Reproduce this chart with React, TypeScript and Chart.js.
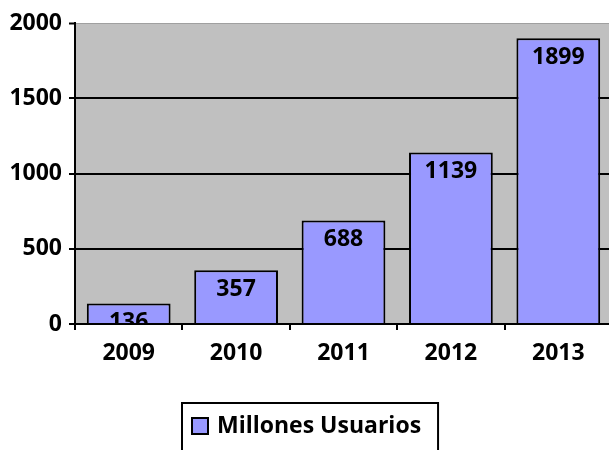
import React, { useEffect, useRef } from "react";
import { Chart, registerables } from "chart.js";

Chart.register(...registerables);

const categories = ["2009", "2010", "2011", "2012", "2013"];
const seriesName = "Millones Usuarios";
const values = [136, 357, 688, 1139, 1899];
const yMin = 0;
const yMax = 2000;
const yStep = 500;

const FONT = "'Open Sans', 'DejaVu Sans', sans-serif";
const FONT_SIZE = 23;
const BAR_COLOR = "#9999FF";
const PLOT_BG = "#C0C0C0";

const plotBg = {
  id: "plotBg",
  beforeDraw(chart: any) {
    const { ctx, chartArea } = chart;
    ctx.save();
    ctx.fillStyle = PLOT_BG;
    ctx.fillRect(chartArea.left, chartArea.top, chartArea.right - chartArea.left, chartArea.bottom - chartArea.top);
    ctx.restore();
  },
};

const barLabels = {
  id: "barLabels",
  afterDatasetsDraw(chart: any) {
    const { ctx, chartArea } = chart;
    const meta = chart.getDatasetMeta(0);
    const data = chart.data.datasets[0].data as number[];
    ctx.save();
    ctx.beginPath();
    ctx.rect(chartArea.left, chartArea.top, chartArea.right - chartArea.left, chartArea.bottom - chartArea.top);
    ctx.clip();
    ctx.font = `bold ${FONT_SIZE}px ${FONT}`;
    ctx.fillStyle = "#000";
    ctx.textAlign = "center";
    ctx.textBaseline = "middle";
    meta.data.forEach((el: any, i: number) => {
      ctx.fillText(String(data[i]), el.x, el.y + 19);
    });
    ctx.restore();
  },
};

const boxedLegend = {
  id: "boxedLegend",
  afterDraw(chart: any) {
    const { ctx, chartArea } = chart;
    const label = chart.data.datasets[0].label as string;
    ctx.save();
    ctx.font = `bold ${FONT_SIZE}px ${FONT}`;
    const textW = ctx.measureText(label).width;
    const padL = 10, marker = 16, gap = 9, padR = 17;
    const totalW = padL + marker + gap + textW + padR;
    const left = Math.round(chart.width / 2 - totalW / 2);
    const top = chartArea.bottom + 79;
    ctx.strokeStyle = "#000";
    ctx.lineWidth = 2;
    ctx.strokeRect(left, top, totalW, chart.height - top + 10);
    const cy = top + 23;
    ctx.fillStyle = BAR_COLOR;
    ctx.fillRect(left + padL, cy - marker / 2, marker, marker);
    ctx.strokeRect(left + padL, cy - marker / 2, marker, marker);
    ctx.fillStyle = "#000";
    ctx.textAlign = "left";
    ctx.textBaseline = "middle";
    ctx.fillText(label, left + padL + marker + gap, cy);
    ctx.restore();
  },
};

export default function App() {
  const ref = useRef<HTMLCanvasElement>(null);

  useEffect(() => {
    if (!ref.current) return;
    const chart = new Chart(ref.current, {
      type: "bar",
      data: {
        labels: categories,
        datasets: [
          {
            label: seriesName,
            data: values,
            backgroundColor: BAR_COLOR,
            borderColor: "#000",
            borderWidth: 2,
            categoryPercentage: 1,
            barPercentage: 0.78,
          },
        ],
      },
      options: {
        responsive: false,
        maintainAspectRatio: false,
        animation: false,
        devicePixelRatio: 1,
        layout: { padding: { left: 0, right: 8, top: 23, bottom: 86 } },
        plugins: {
          legend: { display: false },
          tooltip: { enabled: false },
        },
        scales: {
          x: {
            grid: {
              offset: true,
              drawOnChartArea: false,
              drawTicks: true,
              tickLength: 6,
              color: "#000",
              lineWidth: 2,
            },
            border: { color: "#000", width: 2, z: 1 },
            ticks: {
              color: "#000",
              font: { family: FONT, size: FONT_SIZE, weight: "bold" },
              padding: 10,
              maxRotation: 0,
              autoSkip: false,
            },
            afterFit(s: any) {
              s.height = 60;
            },
          },
          y: {
            min: yMin,
            max: yMax,
            ticks: {
              stepSize: yStep,
              color: "#000",
              font: { family: FONT, size: FONT_SIZE, weight: "bold" },
              padding: 7,
              callback: (v: any) => String(v),
            },
            grid: {
              color: (c: any) => (c.tick && c.tick.value === yMax ? "#A0A0A0" : "#000"),
              lineWidth: (c: any) => (c.tick && c.tick.value === yMax ? 1 : 2),
              tickColor: "#000",
              tickWidth: 2,
              tickLength: 6,
            },
            border: { color: "#000", width: 2, z: 1 },
            afterFit(s: any) {
              s.width = 75;
            },
          },
        },
      },
      plugins: [plotBg, barLabels, boxedLegend],
    });
    return () => chart.destroy();
  }, []);

  return (
    <div
      style={{
        position: "fixed",
        left: 0,
        top: 0,
        width: 609,
        height: 450,
        overflow: "hidden",
        background: "#fff",
      }}
    >
      <canvas ref={ref} width={620} height={470} style={{ display: "block" }} />
    </div>
  );
}
